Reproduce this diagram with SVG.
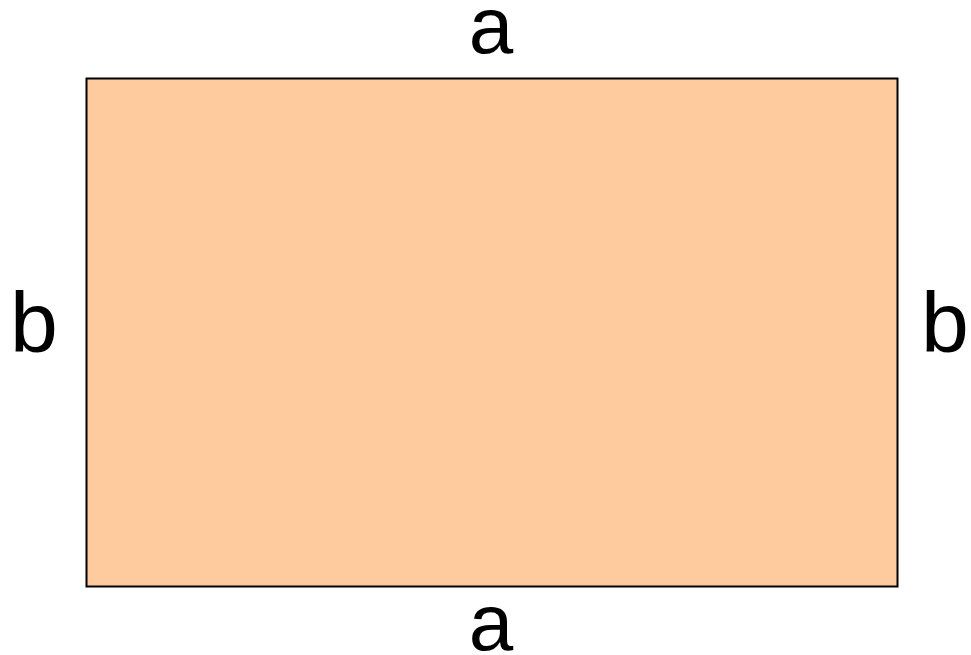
<svg xmlns="http://www.w3.org/2000/svg" width="971" height="655" viewBox="0 0 971 655">
<style>
.lbl{font-family:"Liberation Sans",Arial,sans-serif;font-size:80px;fill:#000;text-anchor:middle}
.side{font-size:86px}
</style>
<rect width="971" height="655" fill="#fff"/>
<g id="rect"><rect x="86.5" y="78.5" width="811" height="508" fill="#FECB9E" stroke="#000" stroke-width="2"/></g>
<g id="labels">
<text class="lbl" x="491" y="53">a</text>
<text class="lbl" x="491" y="650">a</text>
<text class="lbl side" x="34" y="352">b</text>
<text class="lbl side" x="945" y="352">b</text>
</g>
</svg>
